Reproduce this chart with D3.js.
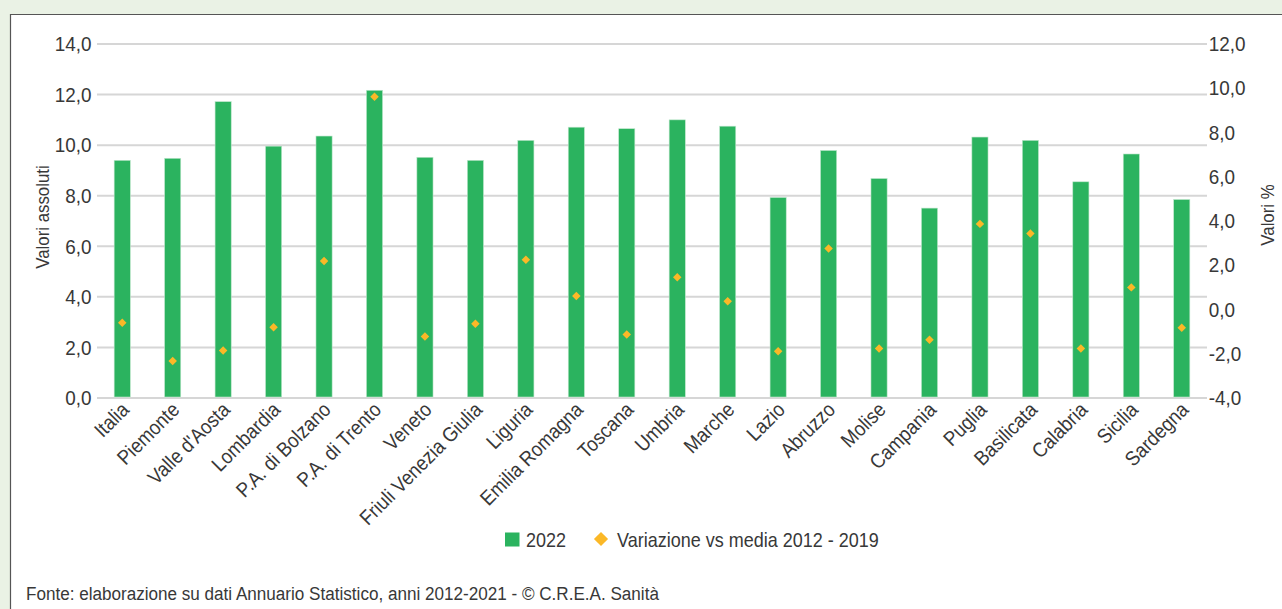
<!DOCTYPE html>
<html>
<head>
  <meta charset="utf-8">
  <title>Valori assoluti e variazione</title>
  <style>
    body { margin: 0; background: #eaf2e5; }
    svg { display: block; }
    text { font-family: "Liberation Sans", Arial, sans-serif; fill: #383838; }
  </style>
</head>
<body>
  <div id="chart"></div>

  <script src="https://d3js.org/d3.v7.min.js"></script>
  <script>
    var categories = ["Italia", "Piemonte", "Valle d'Aosta", "Lombardia", "P.A. di Bolzano", "P.A. di Trento",
      "Veneto", "Friuli Venezia Giulia", "Liguria", "Emilia Romagna", "Toscana", "Umbria", "Marche",
      "Lazio", "Abruzzo", "Molise", "Campania", "Puglia", "Basilicata", "Calabria", "Sicilia", "Sardegna"];

    // bars, left axis (valori assoluti)
    var values2022 = [9.40, 9.48, 11.72, 9.96, 10.36, 12.17, 9.52, 9.40, 10.19, 10.71, 10.65, 11.00,
      10.75, 7.93, 9.79, 8.68, 7.51, 10.32, 10.19, 8.55, 9.65, 7.85];

    // diamonds, right axis (valori %)
    var variazione = [-0.60, -2.33, -1.85, -0.80, 2.19, 9.62, -1.22, -0.64, 2.25, 0.61, -1.13, 1.46,
      0.37, -1.89, 2.76, -1.76, -1.37, 3.87, 3.44, -1.76, 1.00, -0.83];

    var leftTicks = [0, 2, 4, 6, 8, 10, 12, 14];
    var rightTicks = [-4, -2, 0, 2, 4, 6, 8, 10, 12];

    var W = 1282, H = 609;
    var margin = {top: 44, right: 75, bottom: 211, left: 97},
        width = W - margin.left - margin.right,
        height = H - margin.top - margin.bottom;

    var SX = 0.9; // condensed look for the text
    var fmt = function(d) { return d.toFixed(1).replace(".", ","); };

    var svg = d3.select("#chart").append("svg")
        .attr("width", W)
        .attr("height", H);

    // white panel with dark border on top and left
    svg.append("rect")
        .attr("x", 10).attr("y", 14)
        .attr("width", W - 10).attr("height", H - 14)
        .attr("fill", "#fff");
    svg.append("path")
        .attr("d", "M10.5," + H + "V14.5H" + W)
        .attr("fill", "none")
        .attr("stroke", "#555")
        .attr("stroke-width", 1.2);

    var g = svg.append("g")
        .attr("transform", "translate(" + margin.left + "," + margin.top + ")");

    var x = d3.scaleBand()
        .domain(categories)
        .range([0, width])
        .paddingInner(0.68)
        .paddingOuter(0.34);

    var yL = d3.scaleLinear().domain([0, 14]).range([height, 0]);
    var yR = d3.scaleLinear().domain([-4, 12]).range([height, 0]);

    // gridlines
    g.selectAll(".grid")
        .data(leftTicks)
        .enter().append("line")
        .attr("x1", 0).attr("x2", width)
        .attr("y1", function(d) { return yL(d); })
        .attr("y2", function(d) { return yL(d); })
        .attr("stroke", "#d6d6d6")
        .attr("stroke-width", 2);

    // bars
    g.selectAll(".bar")
        .data(values2022)
        .enter().append("rect")
        .attr("x", function(d, i) { return x(categories[i]); })
        .attr("y", function(d) { return yL(d); })
        .attr("width", x.bandwidth())
        .attr("height", function(d) { return height - yL(d) - 1; })
        .attr("fill", "#2bb35f")
        .attr("stroke", "#bfe6cc")
        .attr("stroke-width", 0.6);

    // diamonds
    var diamond = d3.symbol().type(d3.symbolDiamond2).size(46);
    g.selectAll(".pt")
        .data(variazione)
        .enter().append("path")
        .attr("d", diamond)
        .attr("transform", function(d, i) {
          return "translate(" + (x(categories[i]) + x.bandwidth() / 2) + "," + yR(d) + ")";
        })
        .attr("fill", "#fbb827");

    // left axis
    var axL = g.append("g")
        .call(d3.axisLeft(yL).tickValues(leftTicks).tickFormat(fmt).tickSize(0).tickPadding(6));
    axL.select(".domain").remove();
    axL.selectAll("text").attr("font-size", 21).attr("font-family", null).attr("fill", "#383838")
        .attr("transform", "scale(" + SX + ",1)");

    // right axis
    var axR = g.append("g")
        .attr("transform", "translate(" + width + ",0)")
        .call(d3.axisRight(yR).tickValues(rightTicks).tickFormat(fmt).tickSize(0).tickPadding(2));
    axR.select(".domain").remove();
    axR.selectAll("text").attr("font-size", 21).attr("font-family", null).attr("fill", "#383838")
        .attr("transform", "scale(" + SX + ",1)");

    // category labels
    g.selectAll(".cat")
        .data(categories)
        .enter().append("text")
        .attr("transform", function(d) {
          return "translate(" + (x(d) + x.bandwidth() / 2 + 8) + "," + (height + 13) + ") rotate(-45) scale(" + SX + ",1)";
        })
        .attr("text-anchor", "end")
        .attr("font-size", 20.5)
        .text(function(d) { return d; });

    // axis titles
    svg.append("text")
        .attr("transform", "translate(49," + (margin.top + height / 2 - 4) + ") rotate(-90) scale(" + SX + ",1)")
        .attr("text-anchor", "middle")
        .attr("font-size", 18.7)
        .text("Valori assoluti");

    svg.append("text")
        .attr("transform", "translate(1274," + (margin.top + height / 2 - 6) + ") rotate(-90) scale(" + SX + ",1)")
        .attr("text-anchor", "middle")
        .attr("font-size", 18.7)
        .text("Valori %");

    // legend
    var leg = svg.append("g").attr("transform", "translate(505,539)");
    leg.append("rect").attr("x", 0).attr("y", -6.5).attr("width", 14.5).attr("height", 14).attr("fill", "#2bb35f");
    leg.append("text").attr("transform", "translate(21,7.5) scale(" + SX + ",1)").attr("font-size", 20).text("2022");
    leg.append("path").attr("d", d3.symbol().type(d3.symbolDiamond2).size(128))
        .attr("transform", "translate(96,0)").attr("fill", "#fbb827");
    leg.append("text").attr("transform", "translate(112,7.5) scale(" + SX + ",1)").attr("font-size", 20)
        .text("Variazione vs media 2012 - 2019");

    // source
    svg.append("text")
        .attr("transform", "translate(26,600) scale(" + SX + ",1)")
        .attr("font-size", 19)
        .text("Fonte: elaborazione su dati Annuario Statistico, anni 2012-2021 - © C.R.E.A. Sanità");
  </script>
</body>
</html>
